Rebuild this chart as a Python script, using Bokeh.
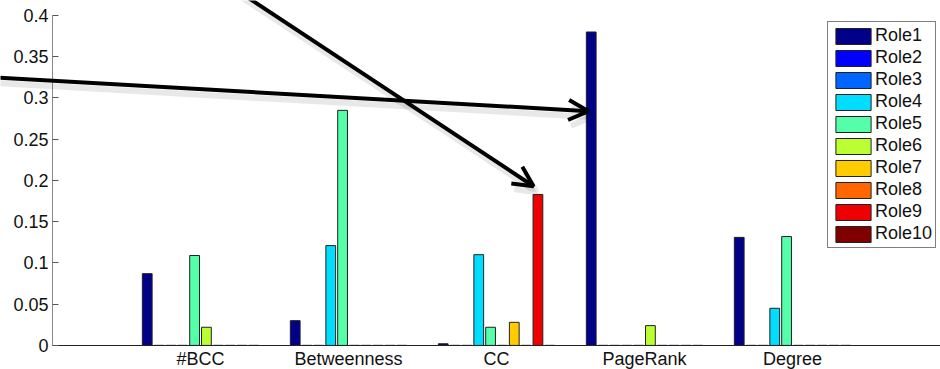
from bokeh.plotting import figure
from bokeh.models import (ColumnDataSource, FixedTicker, Legend, LegendItem,
                          Arrow, OpenHead, Range1d)
from bokeh.transform import dodge
from bokeh.embed import file_html
from bokeh.resources import INLINE

# ---- data ----
categories = ["#BCC", "Betweenness", "CC", "PageRank", "Degree"]
roles = ["Role1", "Role2", "Role3", "Role4", "Role5",
         "Role6", "Role7", "Role8", "Role9", "Role10"]
role1 = [0.087, 0.030, 0.002, 0.380, 0.131]
role2 = [0.0, 0.0, 0.0, 0.0, 0.0]
role3 = [0.0, 0.0, 0.0, 0.0, 0.0]
role4 = [0.0, 0.121, 0.110, 0.0, 0.045]
role5 = [0.109, 0.285, 0.022, 0.0, 0.132]
role6 = [0.022, 0.0, 0.0, 0.024, 0.0]
role7 = [0.0, 0.0, 0.028, 0.0, 0.0]
role8 = [0.0, 0.0, 0.0, 0.0, 0.0]
role9 = [0.0, 0.0, 0.183, 0.0, 0.0]
role10 = [0.0, 0.0, 0.0, 0.0, 0.0]
y_ticks = [0, 0.05, 0.1, 0.15, 0.2, 0.25, 0.3, 0.35, 0.4]

colors = ["#000088", "#0000FF", "#0066FF", "#00DDFF", "#55FFAA",
          "#BBFF33", "#FFCC00", "#FF6600", "#EE0000", "#800000"]

series = [role1, role2, role3, role4, role5, role6, role7, role8, role9, role10]
data = {"x": list(range(1, len(categories) + 1))}
for name, vals in zip(roles, series):
    data[name] = vals
source = ColumnDataSource(data)

FONT = "Liberation Sans"

p = figure(frame_width=940, frame_height=369, output_backend="svg",
           toolbar_location=None,
           x_range=Range1d(-0.3514, 6), y_range=Range1d(-0.02921, 0.41818),
           min_border_left=0, min_border_right=0, min_border_top=0,
           min_border_bottom=0)
p.outline_line_color = None
p.xgrid.grid_line_color = None
p.ygrid.grid_line_color = None
p.background_fill_color = "white"
p.border_fill_color = "white"

slot = 0.08
bar_w = 0.066
items = []
for i, (name, col) in enumerate(zip(roles, colors)):
    off = (i - 4.5) * slot
    r = p.vbar(x=dodge("x", off, range=p.x_range), top=name, width=bar_w,
               bottom=0, source=source, fill_color=col, line_color="#222222",
               line_width=1)
    items.append(LegendItem(label=name, renderers=[r]))

# axes
p.xaxis.fixed_location = 0
p.xaxis.ticker = FixedTicker(ticks=data["x"])
p.xaxis.major_label_overrides = {x: c for x, c in zip(data["x"], categories)}
p.xaxis.bounds = (0, 6)
p.xaxis.major_tick_in = 0
p.xaxis.major_tick_out = 0
p.xaxis.minor_tick_line_color = None
p.xaxis.axis_line_color = "#222222"
p.xaxis.major_label_text_font = FONT
p.xaxis.major_label_text_font_size = "18px"
p.xaxis.major_label_text_color = "#111111"
p.xaxis.major_label_standoff = 4

p.yaxis.fixed_location = 0
p.yaxis.bounds = (0, 0.4)
p.yaxis.ticker = FixedTicker(ticks=y_ticks)
p.yaxis.major_label_overrides = {t: f"{t:g}" for t in y_ticks}
p.yaxis.major_tick_in = 6
p.yaxis.major_tick_out = 0
p.yaxis.minor_tick_line_color = None
p.yaxis.axis_line_color = "#888888"
p.yaxis.major_tick_line_color = "#555555"
p.yaxis.major_label_text_font = FONT
p.yaxis.major_label_text_font_size = "18px"
p.yaxis.major_label_text_color = "#111111"
p.yaxis.major_label_standoff = 4

# legend
legend = Legend(items=items, location=(827, 121), margin=0, padding=3,
                glyph_width=44, glyph_height=20, label_height=16, spacing=1,
                label_standoff=0, label_text_font=FONT,
                label_text_font_size="18px", label_text_color="#111111",
                border_line_color="black", border_line_width=1,
                background_fill_alpha=1.0)
p.add_layout(legend, "center")

# arrows (annotations), with faint shadow
arrows = [(-0.4, 0.325, 3.622, 0.284), (1.25, 0.43, 3.25, 0.193)]
for xs, ys, xe, ye in arrows:
    p.add_layout(Arrow(end=OpenHead(size=20, line_width=6, line_color="black",
                                    line_alpha=0.09),
                       x_start=xs + 0.02, y_start=ys - 0.007,
                       x_end=xe + 0.02, y_end=ye - 0.007,
                       line_width=6, line_color="black", line_alpha=0.09))
for xs, ys, xe, ye in arrows:
    p.add_layout(Arrow(end=OpenHead(size=20, line_width=4, line_color="black"),
                       x_start=xs, y_start=ys, x_end=xe, y_end=ye,
                       line_width=4, line_color="black"))

open("out.html", "w").write(file_html(p, INLINE))
